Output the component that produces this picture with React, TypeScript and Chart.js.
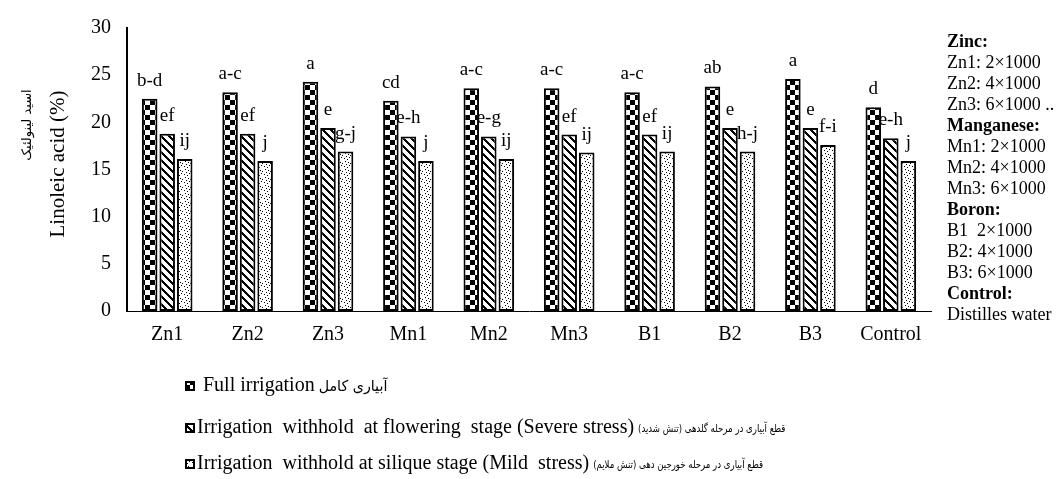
import React, { useEffect, useRef } from "react";
import { Chart, registerables } from "chart.js";

Chart.register(...registerables);

const categories = ["Zn1", "Zn2", "Zn3", "Mn1", "Mn2", "Mn3", "B1", "B2", "B3", "Control"];
const fullIrrigation = [22.5, 23.2, 24.3, 22.3, 23.6, 23.6, 23.2, 23.8, 24.6, 21.6];
const severeStress = [18.8, 18.8, 19.4, 18.5, 18.5, 18.7, 18.7, 19.4, 19.4, 18.3];
const mildStress = [16.1, 15.9, 16.9, 15.9, 16.1, 16.8, 16.9, 16.9, 17.6, 15.9];
const fullLetters = ["b-d", "a-c", "a", "cd", "a-c", "a-c", "a-c", "ab", "a", "d"];
const severeLetters = ["ef", "ef", "e", "e-h", "e-g", "ef", "ef", "e", "e", "e-h"];
const mildLetters = ["ij", "j", "g-j", "j", "ij", "ij", "ij", "h-j", "f-i", "j"];
const yTicks = [0, 5, 10, 15, 20, 25, 30];
const seriesNamesEn = [
  "Full irrigation",
  "Irrigation  withhold  at flowering  stage (Severe stress)",
  "Irrigation  withhold at silique stage (Mild  stress)",
];
const seriesNamesFa = [
  "آبیاری کامل",
  "قطع آبیاری در مرحله گلدهی (تنش شدید)",
  "قطع آبیاری در مرحله خورجین دهی (تنش ملایم)",
];
const yTitleEn = "Linoleic acid (%)";
const yTitleFa = "اسید لینولئیک";
const sidePanelText = [
  "Zinc:", "Zn1: 2×1000", "Zn2: 4×1000", "Zn3: 6×1000 ..",
  "Manganese:", "Mn1: 2×1000", "Mn2: 4×1000", "Mn3: 6×1000",
  "Boron:", "B1  2×1000", "B2: 4×1000", "B3: 6×1000",
  "Control:", "Distilles water",
];
const sidePanelHeadings = ["Zinc:", "Manganese:", "Boron:", "Control:"];

const SERIF = "'Liberation Serif', 'Times New Roman', serif";
const FA_FONT = "'DejaVu Sans', 'Noto Sans', sans-serif";

function makeTile(size: number, fn: (x: number, y: number) => boolean) {
  const c = document.createElement("canvas");
  c.width = size;
  c.height = size;
  const ctx = c.getContext("2d")!;
  const img = ctx.createImageData(size, size);
  for (let y = 0; y < size; y++) {
    for (let x = 0; x < size; x++) {
      const i = (y * size + x) * 4;
      const v = fn(x, y) ? 0 : 255;
      img.data[i] = v;
      img.data[i + 1] = v;
      img.data[i + 2] = v;
      img.data[i + 3] = 255;
    }
  }
  ctx.putImageData(img, 0, 0);
  return c;
}

export default function App() {
  const ref = useRef<HTMLCanvasElement | null>(null);

  useEffect(() => {
    document.body.style.margin = "0";
    const canvas = ref.current!;
    const ctx = canvas.getContext("2d")!;
    const checker = ctx.createPattern(
      makeTile(10, (x, y) => (Math.floor(x / 5) + Math.floor(y / 5)) % 2 === 0),
      "repeat"
    )!;
    const hatch = ctx.createPattern(
      makeTile(8, (x, y) => (((x - y) % 8) + 8) % 8 < 3),
      "repeat"
    )!;
    const dotSet = ["1,1", "4,2", "2,4", "5,5", "0,6", "6,3", "3,7"];
    const dots = ctx.createPattern(
      makeTile(8, (x, y) => dotSet.includes(`${x},${y}`)),
      "repeat"
    )!;
    const patterns = [checker, hatch, dots];
    const letters = [fullLetters, severeLetters, mildLetters];

    const overlay = {
      id: "overlay",
      afterDraw(chart: any) {
        const c = chart.ctx;
        c.save();
        // bar letters
        c.fillStyle = "#000";
        c.font = `19px ${SERIF}`;
        c.textAlign = "center";
        c.textBaseline = "alphabetic";
        for (let d = 0; d < 3; d++) {
          const meta = chart.getDatasetMeta(d);
          meta.data.forEach((el: any, i: number) => {
            c.fillText(letters[d][i], el.x, el.y - 13);
          });
        }
        // y title
        c.save();
        c.translate(58, 164);
        c.rotate(-Math.PI / 2);
        c.font = `21px ${SERIF}`;
        c.textAlign = "center";
        c.textBaseline = "middle";
        c.fillText(yTitleEn, 0, 0);
        c.restore();
        c.save();
        c.translate(28, 125);
        c.rotate(-Math.PI / 2);
        c.font = `13px ${FA_FONT}`;
        c.direction = "rtl";
        c.textAlign = "center";
        c.textBaseline = "middle";
        c.fillText(yTitleFa, 0, 0);
        c.restore();
        // side panel
        c.textAlign = "left";
        c.textBaseline = "middle";
        sidePanelText.forEach((t, i) => {
          const bold = sidePanelHeadings.includes(t);
          c.font = `${bold ? "bold " : ""}18px ${SERIF}`;
          c.fillText(t, 947, 42 + i * 21);
        });
        // legend
        const legendY = [386, 428, 464];
        const faSize = [15, 11, 11];
        const faScale = [0.95, 0.78, 0.78];
        for (let d = 0; d < 3; d++) {
          const y = legendY[d];
          c.fillStyle = patterns[d];
          c.fillRect(185, y - 5, 10, 10);
          c.strokeStyle = "#000";
          c.lineWidth = 2;
          c.strokeRect(186, y - 4, 8, 8);
          c.fillStyle = "#000";
          c.font = `20px ${SERIF}`;
          c.direction = "ltr";
          c.textAlign = "left";
          c.textBaseline = "middle";
          const x0 = d === 0 ? 203 : 197;
          c.fillText(seriesNamesEn[d], x0, y);
          const w = c.measureText(seriesNamesEn[d]).width;
          c.save();
          c.translate(x0 + w + 4, y + 1);
          c.scale(faScale[d], 1);
          c.font = `${faSize[d]}px ${FA_FONT}`;
          c.direction = "rtl";
          c.textAlign = "left";
          c.fillText(seriesNamesFa[d], 0, 0);
          c.restore();
        }
        c.restore();
      },
    };

    const chart = new Chart(canvas, {
      type: "bar",
      data: {
        labels: categories,
        datasets: [
          { label: seriesNamesEn[0], data: fullIrrigation, backgroundColor: checker },
          { label: seriesNamesEn[1], data: severeStress, backgroundColor: hatch },
          { label: seriesNamesEn[2], data: mildStress, backgroundColor: dots },
        ].map((ds) => ({
          ...ds,
          borderColor: "#000",
          borderWidth: 2,
          borderSkipped: false,
          categoryPercentage: 0.654,
          barPercentage: 0.886,
        })),
      },
      options: {
        responsive: false,
        animation: false,
        devicePixelRatio: 1,
        layout: { padding: { left: 0, right: 126, top: 18, bottom: 128 } },
        plugins: { legend: { display: false }, tooltip: { enabled: false } },
        scales: {
          x: {
            grid: { display: false, drawTicks: false },
            border: { display: true, color: "#000", width: 1 },
            ticks: { color: "#000", font: { family: SERIF, size: 20 }, padding: 12 },
            afterFit: (s: any) => {
              s.height = 40;
            },
          },
          y: {
            min: 0,
            max: 30,
            grid: { display: false, drawTicks: false },
            border: { display: true, color: "#000", width: 2 },
            ticks: { color: "#000", font: { family: SERIF, size: 20 }, padding: 16 },
            afterBuildTicks: (s: any) => {
              s.ticks = yTicks.map((v) => ({ value: v }));
            },
            afterFit: (s: any) => {
              s.width = 127;
            },
          },
        },
      } as any,
      plugins: [overlay],
    });
    return () => chart.destroy();
  }, []);

  return <canvas ref={ref} width={1057} height={479} style={{ display: "block" }} />;
}
